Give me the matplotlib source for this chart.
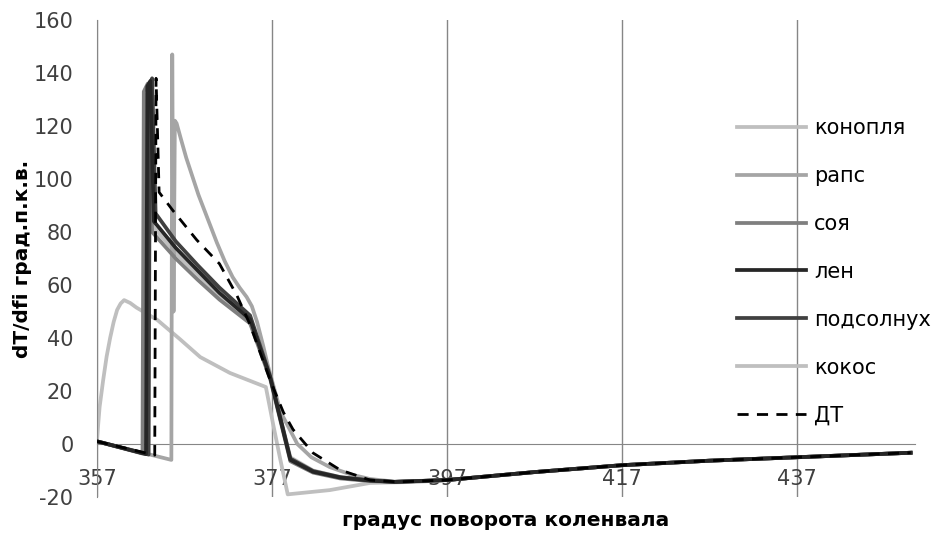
import numpy as np
import matplotlib.pyplot as plt

plt.rcParams['axes.unicode_minus'] = False

# common tail of all curves (degrees, dT/dfi)
tail_x = [397, 407, 417, 427, 437, 450]
tail_y = [-13.6, -10.6, -8.0, -6.3, -5.0, -3.3]

konoplya_x = [357, 362.4, 362.55, 362.95, 363.4, 366, 368.5, 371, 374.5, 376.8, 379.1, 381.7, 384.8, 388.2, 391]
konoplya_y = [1, -3.7, 131, 134, 82, 72, 64, 56, 46, 25, -5, -10, -12.5, -13.8, -14.3]

raps_x = [357, 365.5, 365.6, 365.75, 365.9, 366.1, 366.6, 367.2, 367.9, 368.6, 369.3, 370.0, 370.7,
          371.6, 372.5, 373.3, 374.1, 374.7, 375.3, 376.0, 376.5, 378, 379.9, 381.5, 383.6, 386, 388.2, 391]
raps_y = [1, -6, 147, 50, 122, 121, 115, 108, 101, 94, 88, 82, 76,
          69, 63, 59, 55.5, 52, 46, 37, 30, 12, 0, -5, -8.7, -11.5, -13.2, -14.2]

soya_x = [357, 362.2, 362.35, 362.8, 363.3, 366, 368.5, 371, 374.5, 376.8, 379.1, 381.7, 384.8, 388.2, 391]
soya_y = [1, -3.6, 133, 136, 80, 70, 62, 54.5, 45.5, 24.5, -6.5, -10.8, -13, -14, -14.3]

len_x = [357, 362.6, 362.75, 363.1, 363.5, 366, 368.5, 371, 374.5, 376.8, 379.1, 381.7, 384.8, 388.2, 391]
len_y = [1, -3.8, 135, 137, 84, 74, 65.5, 57, 47, 25, -6, -10.5, -12.7, -13.8, -14.3]

podsol_x = [357, 362.9, 363.05, 363.3, 363.7, 366, 368.5, 371, 374.5, 376.8, 379.1, 381.7, 384.8, 388.2, 391]
podsol_y = [1, -4, 136, 138, 87, 76.5, 67.5, 59, 48.5, 25.5, -5.5, -10.2, -12.5, -13.7, -14.3]

kokos_x = [357, 357.15, 357.3, 357.7, 358.1, 358.5, 358.9, 359.3, 359.7, 360.1, 360.8, 361.5, 363.9,
           366.5, 368.8, 372.2, 376.3, 377.1, 377.9, 378.8, 383.6, 388.2, 393.6]
kokos_y = [1, 8, 14, 24, 33, 40, 46, 50.6, 53, 54.3, 53.2, 51.5, 46.8,
           39.5, 32.8, 26.8, 21.5, 8, -5, -19, -17.4, -14.7, -14.3]

dt_x = [357, 363.6, 363.75, 364.1, 365.7, 368.4, 371, 373, 374.5, 376.8, 378.3, 379.4, 381.7, 384.8, 388.2, 391.3]
dt_y = [1, -4.2, 138, 95, 88, 77, 68, 56, 45, 24, 12, 5.5, -3.4, -9.8, -13.6, -14.3]

x_ticks = [357, 377, 397, 417, 437]
y_ticks = list(range(-20, 161, 20))

fig = plt.figure(figsize=(9.36, 5.34), dpi=100)
ax = fig.add_axes([97/936, 1 - 497/534, 818/936, 477/534])

# series: (label, x, y, colour, style, zorder)
series = [
    ('конопля', konoplya_x, konoplya_y, '#bfbfbf', '-', 2),
    ('рапс', raps_x, raps_y, '#a5a5a5', '-', 3),
    ('соя', soya_x, soya_y, '#7f7f7f', '-', 4),
    ('лен', len_x, len_y, '#262626', '-', 6),
    ('подсолнух', podsol_x, podsol_y, '#404040', '-', 5),
    ('кокос', kokos_x, kokos_y, '#bfbfbf', '-', 1),
    ('ДТ', dt_x, dt_y, 'black', (0, (4, 3)), 7),
]

handles = []
for name, xs, ys, col, ls, z in series:
    xx = list(xs) + tail_x
    yy = list(ys) + tail_y
    lw = 2.0 if name == 'ДТ' else 2.7
    h, = ax.plot(xx, yy, color=col, linestyle=ls, lw=lw, zorder=z,
                 solid_joinstyle='round', dash_capstyle='butt', label=name)
    handles.append(h)

ax.set_xlim(357, 450.5)
ax.set_ylim(-20, 160)
ax.set_xticks(x_ticks)
ax.set_yticks(y_ticks)
ax.spines['top'].set_visible(False)
ax.spines['right'].set_visible(False)
ax.spines['bottom'].set_position(('data', 0))
ax.spines['bottom'].set_color('#868686')
ax.spines['left'].set_color('#868686')
ax.tick_params(length=0, labelsize=15, labelcolor='#404040')
ax.tick_params(axis='x', pad=18)
ax.tick_params(axis='y', pad=17)
ax.grid(axis='x', color='#868686', lw=1)
ax.set_axisbelow(True)

ax.set_xlabel('градус поворота коленвала', fontsize=14.5, fontweight='bold')
ax.set_ylabel('dT/dfi град.п.к.в.', fontsize=14.5, fontweight='bold')
ax.xaxis.set_label_coords(0.5, -0.03)
ax.yaxis.set_label_coords(-0.079, 0.5)

ax.legend(handles=handles, loc='upper left', bbox_to_anchor=(737/936, 1 - 118/534),
          bbox_transform=fig.transFigure, frameon=False, fontsize=15,
          handlelength=3.3, handletextpad=0.4, labelspacing=1.34,
          borderpad=0, borderaxespad=0)

fig.savefig('out.png', dpi=100)
